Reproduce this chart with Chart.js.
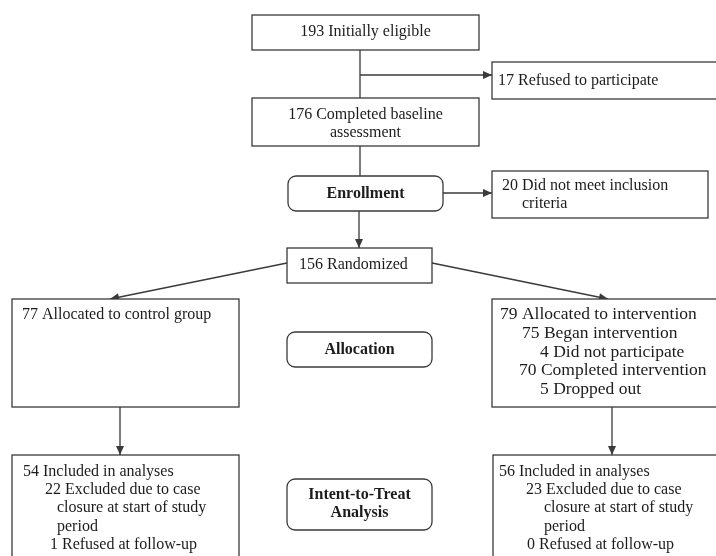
<!DOCTYPE html>
<html>
<head>
<meta charset="utf-8">
<script src="https://cdn.jsdelivr.net/npm/chart.js@4/dist/chart.umd.min.js"></script>
<style>
  html, body { margin: 0; padding: 0; background: #fff; }
  #flow { display: block; }
</style>
</head>
<body>
<canvas id="flow" width="716" height="556"></canvas>
<script>
// participant counts
const screenCounts = [193, 17, 176, 20, 156];
const screenLabels = ["Initially eligible", "Refused to participate", "Completed baseline\nassessment", "Did not meet inclusion\ncriteria", "Randomized"];
const stageLabels = ["Enrollment", "Allocation", "Intent-to-Treat\nAnalysis"];
const allocCounts = [77, 79];
const allocLabels = ["Allocated to control group", "Allocated to intervention"];
const interventionCounts = [75, 4, 70, 5];
const interventionLabels = ["Began intervention", "Did not participate", "Completed intervention", "Dropped out"];
const controlAnalysis = [54, 22, 1];
const interventionAnalysis = [56, 23, 0];
const analysisLabels = ["Included in analyses", "Excluded due to case\nclosure at start of study\nperiod", "Refused at follow-up"];

const FONT = "16px 'Liberation Serif', 'Times New Roman', serif";
const FONT_L = "17.5px 'Liberation Serif', 'Times New Roman', serif";
const BOLD = "bold 16px 'Liberation Serif', 'Times New Roman', serif";
const INK = "#1c1c1c";
const EDGE = "#3a3a3a";

function item(n, label) {
  return (n + " " + label).split("\n");
}

// left aligned lines: [text, x, y]
function stack(lines, xs, ys) {
  return lines.map((t, i) => [t, xs[i], ys[i]]);
}

const ctrlLines = [].concat(item(controlAnalysis[0], analysisLabels[0]), item(controlAnalysis[1], analysisLabels[1]), item(controlAnalysis[2], analysisLabels[2]));
const intLines = [].concat(item(interventionAnalysis[0], analysisLabels[0]), item(interventionAnalysis[1], analysisLabels[1]), item(interventionAnalysis[2], analysisLabels[2]));
const allocIntLines = [allocCounts[1] + " " + allocLabels[1]].concat(interventionCounts.map((n, i) => n + " " + interventionLabels[i]));
const rowsY = [472, 490, 508, 527, 545];

const boxes = [
  { r: [252, 15, 479, 50], center: item(screenCounts[0], screenLabels[0]), cy: 32 },
  { r: [492, 62, 730, 99], text: stack(item(screenCounts[1], screenLabels[1]), [498], [81]) },
  { r: [252, 98, 479, 146], center: item(screenCounts[2], screenLabels[2]), cy: 124 },
  { r: [288, 176, 443, 211], round: true, center: stageLabels[0].split("\n"), cy: 194 },
  { r: [492, 171, 708, 218], text: stack(item(screenCounts[3], screenLabels[3]), [502, 522], [186, 204]) },
  { r: [287, 248, 432, 283], text: stack(item(screenCounts[4], screenLabels[4]), [299], [265]) },
  { r: [12, 299, 239, 407], text: stack(item(allocCounts[0], allocLabels[0]), [22], [315]) },
  { r: [287, 332, 432, 367], round: true, center: stageLabels[1].split("\n"), cy: 350 },
  { r: [492, 299, 730, 407], font: FONT_L, text: stack(allocIntLines, [500, 522, 540, 519, 540], [314, 333, 352, 370, 389]) },
  { r: [12, 455, 239, 600], text: stack(ctrlLines, [23, 45, 57, 57, 50], rowsY) },
  { r: [287, 479, 432, 530], round: true, center: stageLabels[2].split("\n"), cy: 504 },
  { r: [493, 455, 730, 600], text: stack(intLines, [499, 526, 544, 544, 527], rowsY) }
];

// connectors: [x0, y0, x1, y1, arrow]
const links = [
  [360, 50, 360, 98, false],
  [360, 75, 492, 75, true],
  [360, 146, 360, 176, false],
  [443, 193, 492, 193, true],
  [359, 211, 359, 248, true],
  [287, 263, 110, 299, true],
  [432, 263, 608, 299, true],
  [120, 407, 120, 455, true],
  [612, 407, 612, 455, true]
];

const linkSets = links.map(l => ({
  data: [{ x: l[0], y: l[1] }, { x: l[2], y: l[3] }],
  showLine: true,
  borderColor: EDGE,
  borderWidth: 1.3,
  pointRadius: 0,
  arrow: l[4]
}));

function roundRect(ctx, x0, y0, x1, y1, rad) {
  ctx.beginPath();
  ctx.moveTo(x0 + rad, y0);
  ctx.arcTo(x1, y0, x1, y1, rad);
  ctx.arcTo(x1, y1, x0, y1, rad);
  ctx.arcTo(x0, y1, x0, y0, rad);
  ctx.arcTo(x0, y0, x1, y0, rad);
  ctx.closePath();
}

const flowPlugin = {
  id: "flow",
  afterDatasetsDraw(chart) {
    const ctx = chart.ctx;
    const sx = chart.scales.x, sy = chart.scales.y;
    const px = v => sx.getPixelForValue(v);
    const py = v => sy.getPixelForValue(v);
    ctx.save();

    // arrow heads
    ctx.fillStyle = EDGE;
    chart.data.datasets.forEach(ds => {
      if (!ds.arrow) return;
      const a = ds.data[0], b = ds.data[1];
      const x1 = px(b.x), y1 = py(b.y);
      const ang = Math.atan2(y1 - py(a.y), x1 - px(a.x));
      ctx.save();
      ctx.translate(x1, y1);
      ctx.rotate(ang);
      ctx.beginPath();
      ctx.moveTo(0, 0);
      ctx.lineTo(-9, -4);
      ctx.lineTo(-9, 4);
      ctx.closePath();
      ctx.fill();
      ctx.restore();
    });

    // boxes
    boxes.forEach(b => {
      const x0 = px(b.r[0]), y0 = py(b.r[1]), x1 = px(b.r[2]), y1 = py(b.r[3]);
      ctx.strokeStyle = EDGE;
      ctx.lineWidth = 1.3;
      ctx.fillStyle = "#fff";
      if (b.round) {
        roundRect(ctx, x0, y0, x1, y1, 8);
        ctx.fill();
        ctx.stroke();
      } else {
        ctx.fillRect(x0, y0, x1 - x0, y1 - y0);
        ctx.strokeRect(x0, y0, x1 - x0, y1 - y0);
      }
      ctx.fillStyle = INK;
      ctx.textBaseline = "middle";
      if (b.center) {
        ctx.font = b.round ? BOLD : FONT;
        ctx.textAlign = "center";
        const lh = 18;
        const top = b.cy - (b.center.length - 1) * lh / 2;
        b.center.forEach((t, i) => ctx.fillText(t, (x0 + x1) / 2, py(top + i * lh)));
      }
      if (b.text) {
        ctx.font = b.font || FONT;
        ctx.textAlign = "left";
        b.text.forEach(t => ctx.fillText(t[0], px(t[1]), py(t[2])));
      }
    });
    ctx.restore();
  }
};

new Chart(document.getElementById("flow"), {
  type: "scatter",
  data: { datasets: linkSets },
  options: {
    responsive: false,
    animation: false,
    layout: { padding: 0 },
    plugins: { legend: { display: false }, tooltip: { enabled: false } },
    scales: {
      x: { type: "linear", min: 0, max: 716, display: false },
      y: { type: "linear", min: 0, max: 556, reverse: true, display: false }
    }
  },
  plugins: [flowPlugin]
});
</script>
</body>
</html>
